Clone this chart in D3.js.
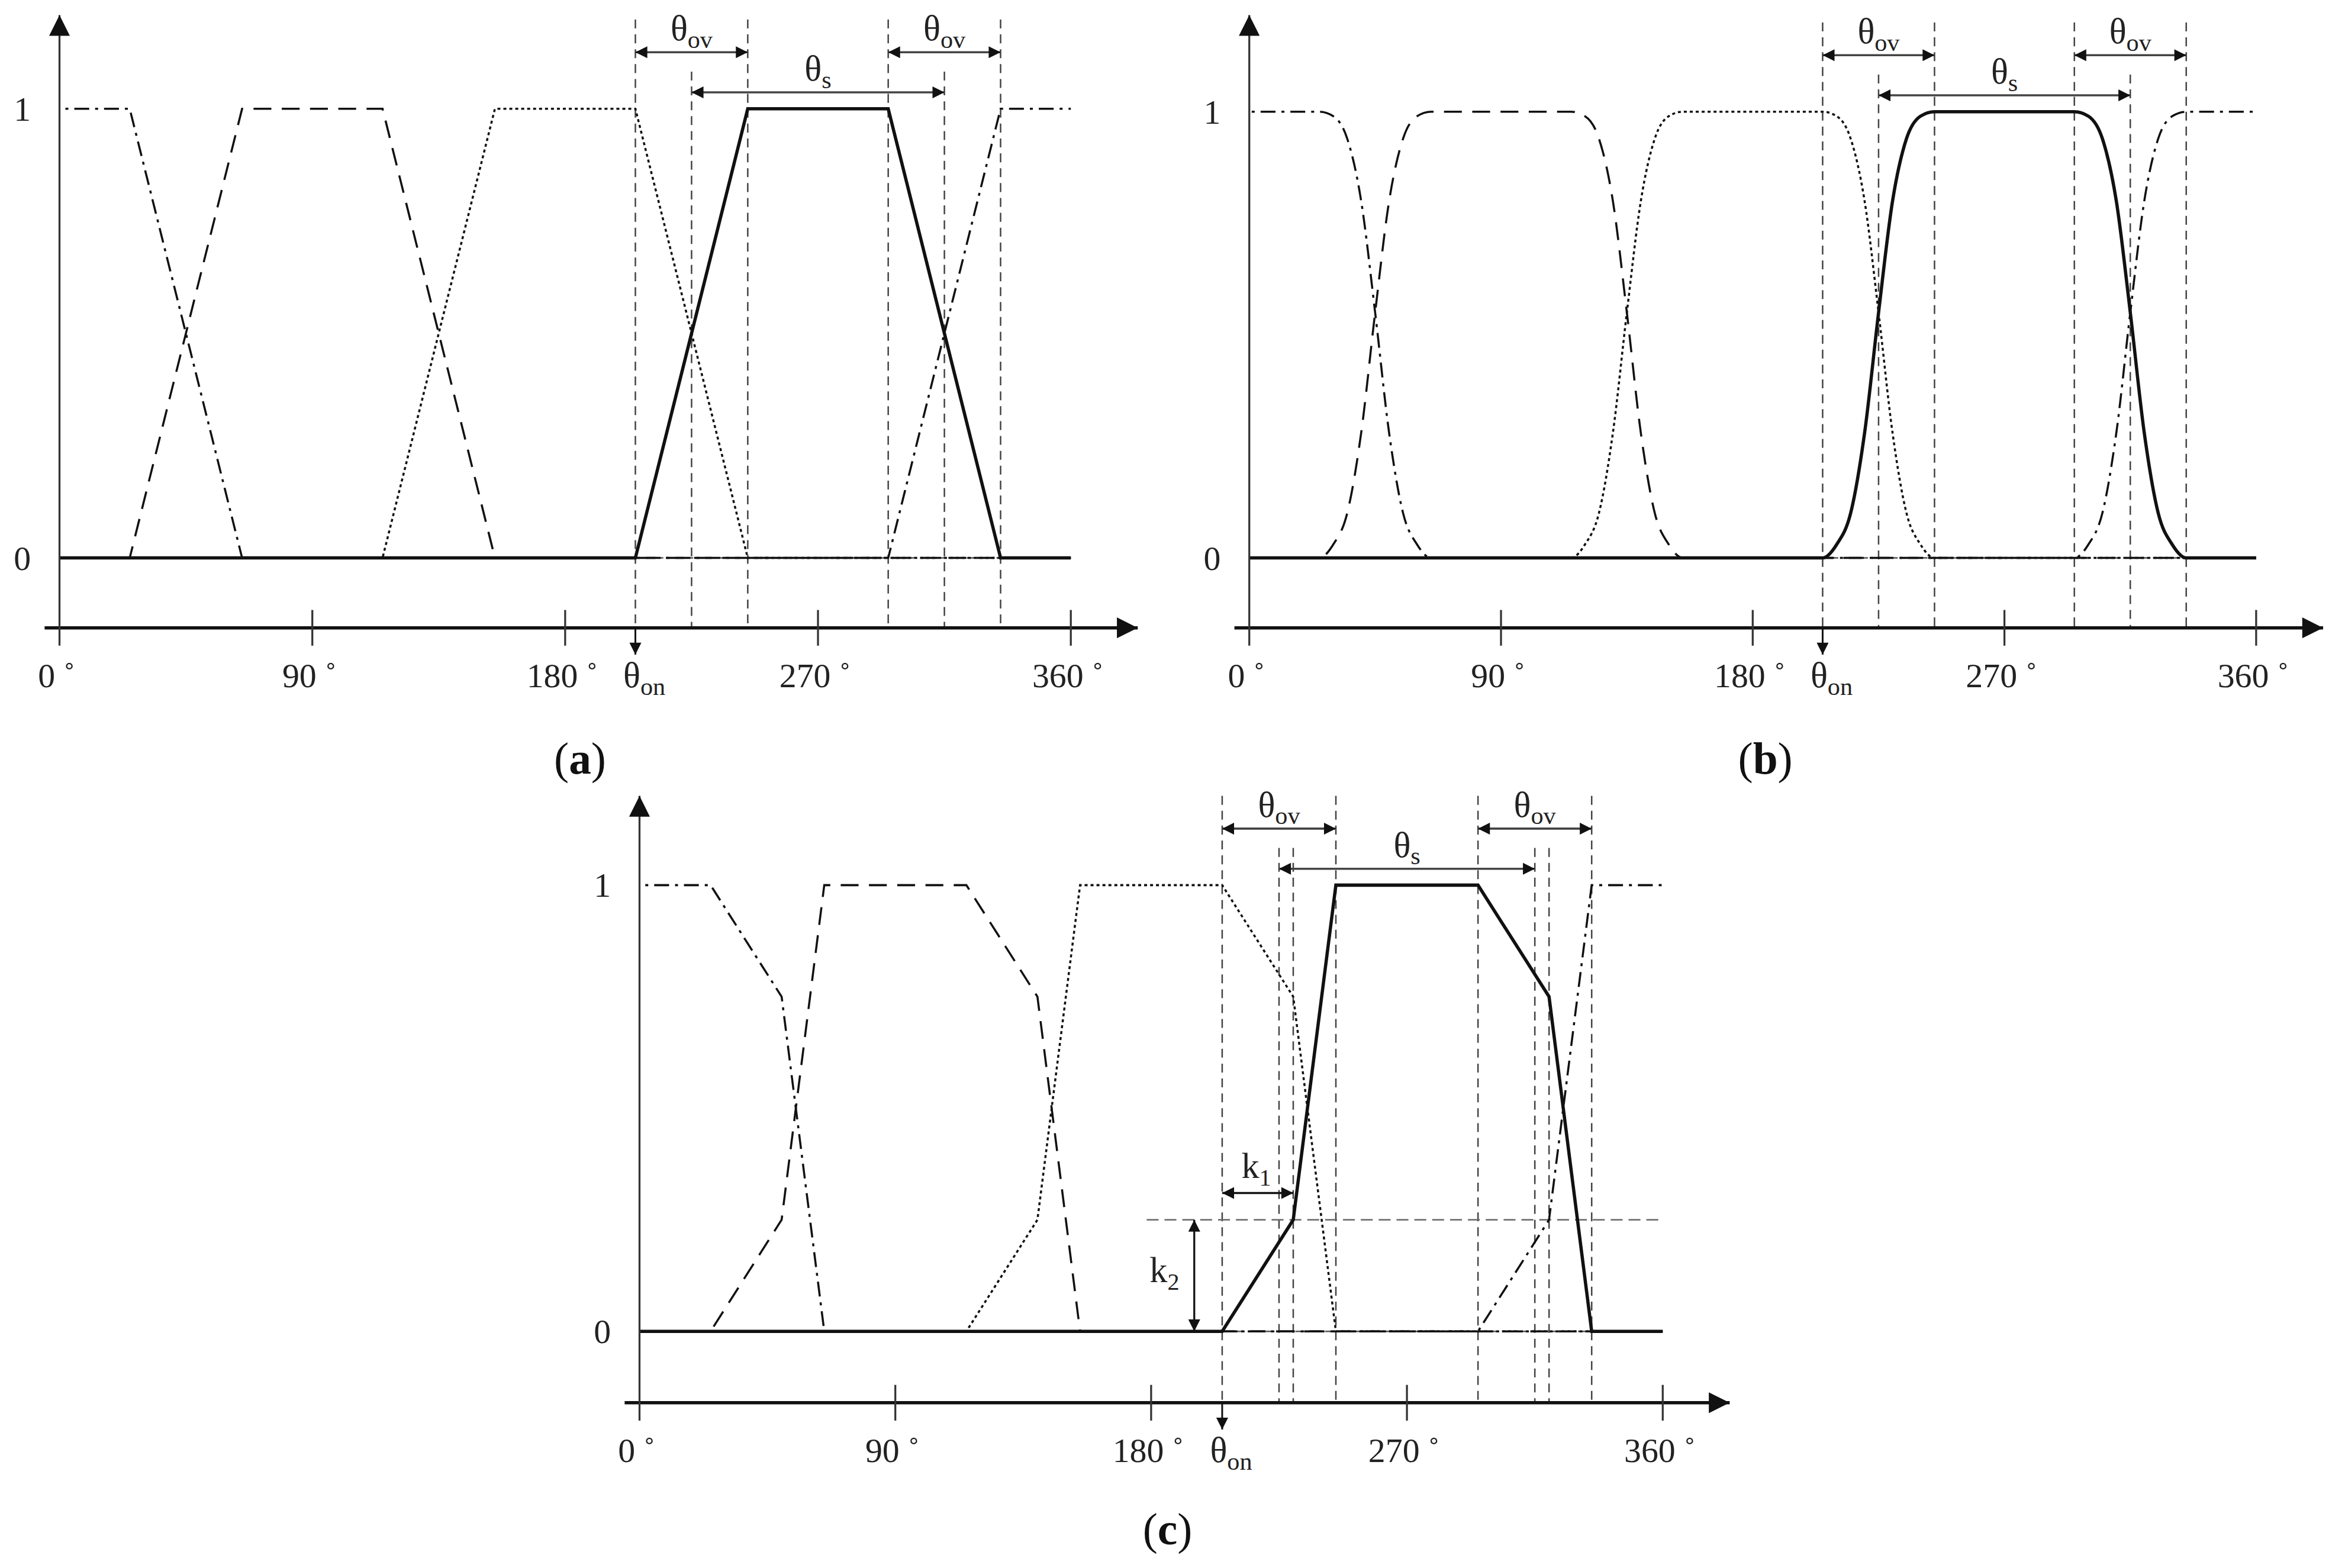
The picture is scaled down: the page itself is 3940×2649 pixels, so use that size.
<!DOCTYPE html>
<html><head><meta charset="utf-8">
<script src="https://cdn.jsdelivr.net/npm/d3@7"></script>
<style>body{margin:0;background:#fff}</style>
</head><body>
<svg id="fig" width="3940" height="2649" viewBox="0 0 1568 1054"></svg>
<script>
// transition profiles: [offset from turn-on in degrees, value]
const profileA = [[0,0],[40,1],[90,1],[130,0]];
const profileB = [[0,0],[5,0.03],[10,0.1],[15,0.28],[20,0.55],[25,0.8],[30,0.94],[35,0.99],[40,1],
                  [90,1],[95,0.99],[100,0.94],[105,0.8],[110,0.55],[115,0.28],[120,0.1],[125,0.03],[130,0]];
const profileC = [[0,0],[25,0.25],[40,1],[90,1],[115,0.75],[130,0]];
const thetaOn = 205;
const phaseShifts = [90, 180, 270, 0];           // dash-dot, dashed, dotted, solid
const phaseDash = ["10,4,2,4", "12,7", "2,2", null];
const xTicks = [0, 90, 180, 270, 360];
const guidesAB = [205, 225, 245, 295, 315, 335];
const guidesC = [205, 225, 230, 245, 295, 315, 320, 335];
const outerGuides = [205, 245, 295, 335];

const panels = [
  {id:"a", prof:profileA, x0:40, x1:720, yZero:375, yOne:73, axisY:422, yTop:10, arrowEnd:765, guides:guidesAB, lab:[390,520]},
  {id:"b", prof:profileB, x0:840, x1:1517, yZero:375, yOne:75, axisY:422, yTop:10, arrowEnd:1562, guides:guidesAB, lab:[1187,520]},
  {id:"c", prof:profileC, x0:430, x1:1118, yZero:895, yOne:595, axisY:943, yTop:535, arrowEnd:1163, guides:guidesC, lab:[785,1038], knee:true}
];

const svg = d3.select("#fig");
const font = "'Liberation Serif', 'DejaVu Serif', serif";
const defs = svg.append("defs");
defs.append("marker").attr("id", "ah").attr("viewBox", "0 0 10 10").attr("refX", 10).attr("refY", 5)
  .attr("markerWidth", 10).attr("markerHeight", 8).attr("markerUnits", "userSpaceOnUse")
  .attr("orient", "auto-start-reverse")
  .append("path").attr("d", "M0,0L10,5L0,10z").attr("fill", "#111");
defs.append("marker").attr("id", "big").attr("viewBox", "0 0 10 10").attr("refX", 10).attr("refY", 5)
  .attr("markerWidth", 20).attr("markerHeight", 14).attr("markerUnits", "userSpaceOnUse")
  .attr("orient", "auto").append("path").attr("d", "M0,0L10,5L0,10z").attr("fill", "#111");

function theta(sel, sub, x, y, size) {
  const t = sel.append("text").attr("x", x).attr("y", y).attr("font-family", font)
    .attr("font-size", size).attr("text-anchor", "middle").attr("fill", "#222");
  t.append("tspan").text("θ");
  t.append("tspan").attr("font-size", size * 0.7).attr("dy", 5).text(sub);
  return t;
}

panels.forEach(p => {
  const g = svg.append("g");
  const x = d3.scaleLinear().domain([0, 360]).range([p.x0, p.x1]);
  const y = d3.scaleLinear().domain([0, 1]).range([p.yZero, p.yOne]);

  defs.append("clipPath").attr("id", "clip" + p.id).append("rect")
    .attr("x", p.x0).attr("y", 0).attr("width", p.x1 - p.x0).attr("height", 1054);

  // guide lines
  p.guides.forEach(d => {
    const top = outerGuides.includes(d) ? p.yOne - 60 : p.yOne - 25;
    g.append("line").attr("x1", x(d)).attr("x2", x(d)).attr("y1", top).attr("y2", p.axisY)
      .attr("stroke", "#444").attr("stroke-width", 1).attr("stroke-dasharray", "6,4");
  });
  const hStart = p.knee ? x(180) - 3 : p.x0;
  g.append("line").attr("x1", hStart).attr("x2", p.x1).attr("y1", y(0)).attr("y2", y(0))
    .attr("stroke", "#555").attr("stroke-width", 1).attr("stroke-dasharray", "6,4");
  if (p.knee) {
    g.append("line").attr("x1", hStart).attr("x2", p.x1).attr("y1", y(0.25)).attr("y2", y(0.25))
      .attr("stroke", "#666").attr("stroke-width", 1).attr("stroke-dasharray", "8,4");
  }

  // phase curves
  const line = d3.line().x(d => x(d[0])).y(d => y(d[1]))
    .curve(p.id === "b" ? d3.curveMonotoneX : d3.curveLinear);
  phaseShifts.forEach((s, i) => {
    const pts = [];
    [-2, -1, 0, 1].forEach(k => {
      const on = (thetaOn + s) % 360 + k * 360;
      p.prof.forEach(q => pts.push([on + q[0], q[1]]));
    });
    g.append("path").attr("d", line(pts)).attr("clip-path", `url(#clip${p.id})`)
      .attr("fill", "none").attr("stroke", "#111")
      .attr("stroke-width", i === 3 ? 2.2 : 1.4)
      .attr("stroke-dasharray", phaseDash[i]);
  });

  // axes
  g.append("line").attr("x1", p.x0 - 10).attr("x2", p.arrowEnd).attr("y1", p.axisY).attr("y2", p.axisY)
    .attr("stroke", "#111").attr("stroke-width", 2.2).attr("marker-end", "url(#big)");
  g.append("line").attr("x1", p.x0).attr("x2", p.x0).attr("y1", p.axisY + 12).attr("y2", p.yTop)
    .attr("stroke", "#333").attr("stroke-width", 1.3).attr("marker-end", "url(#big)");
  xTicks.slice(1).forEach(d => {
    g.append("line").attr("x1", x(d)).attr("x2", x(d)).attr("y1", p.axisY - 12).attr("y2", p.axisY + 12)
      .attr("stroke", "#333").attr("stroke-width", 1.3);
  });
  xTicks.forEach(d => {
    g.append("text").attr("x", x(d) - 2).attr("y", p.axisY + 40).attr("font-family", font)
      .attr("font-size", 23).attr("text-anchor", "middle").attr("fill", "#222").text(d + " ˚");
  });
  [[1, "1"], [0, "0"]].forEach(([v, t]) => {
    g.append("text").attr("x", p.x0 - 25).attr("y", y(v) + 8).attr("font-family", font)
      .attr("font-size", 23).attr("text-anchor", "middle").attr("fill", "#222").text(t);
  });

  // theta_on
  g.append("line").attr("x1", x(thetaOn)).attr("x2", x(thetaOn)).attr("y1", p.axisY).attr("y2", p.axisY + 18)
    .attr("stroke", "#111").attr("stroke-width", 1.2).attr("marker-end", "url(#ah)");
  theta(g, "on", x(thetaOn) + 6, p.axisY + 40, 24);

  // theta_ov and theta_s
  const yo = p.yOne - 38, ys = p.yOne - 11;
  [[205, 245], [295, 335]].forEach(([a, b]) => {
    g.append("line").attr("x1", x(a)).attr("x2", x(b)).attr("y1", yo).attr("y2", yo)
      .attr("stroke", "#444").attr("stroke-width", 1.4)
      .attr("marker-start", "url(#ah)").attr("marker-end", "url(#ah)");
    theta(g, "ov", x((a + b) / 2), yo - 8, 24);
  });
  g.append("line").attr("x1", x(225)).attr("x2", x(315)).attr("y1", ys).attr("y2", ys)
    .attr("stroke", "#444").attr("stroke-width", 1.4)
    .attr("marker-start", "url(#ah)").attr("marker-end", "url(#ah)");
  theta(g, "s", x(270), ys - 8, 24);

  if (p.knee) {
    g.append("line").attr("x1", x(205)).attr("x2", x(230)).attr("y1", 802).attr("y2", 802)
      .attr("stroke", "#111").attr("stroke-width", 1.3)
      .attr("marker-start", "url(#ah)").attr("marker-end", "url(#ah)");
    const k1 = g.append("text").attr("x", x(217)).attr("y", 792).attr("font-family", font)
      .attr("font-size", 24).attr("text-anchor", "middle").attr("fill", "#222");
    k1.append("tspan").text("k");
    k1.append("tspan").attr("font-size", 16).attr("dy", 5).text("1");
    g.append("line").attr("x1", 803).attr("x2", 803).attr("y1", y(0.25)).attr("y2", y(0))
      .attr("stroke", "#111").attr("stroke-width", 1.3)
      .attr("marker-start", "url(#ah)").attr("marker-end", "url(#ah)");
    const k2 = g.append("text").attr("x", 783).attr("y", 862).attr("font-family", font)
      .attr("font-size", 24).attr("text-anchor", "middle").attr("fill", "#222");
    k2.append("tspan").text("k");
    k2.append("tspan").attr("font-size", 16).attr("dy", 5).text("2");
  }

  // panel label
  const lt = g.append("text").attr("x", p.lab[0]).attr("y", p.lab[1]).attr("font-family", font)
    .attr("font-size", 30).attr("text-anchor", "middle").attr("fill", "#111");
  lt.append("tspan").text("(");
  lt.append("tspan").attr("font-weight", "bold").text(p.id);
  lt.append("tspan").text(")");
});
</script>
</body></html>
